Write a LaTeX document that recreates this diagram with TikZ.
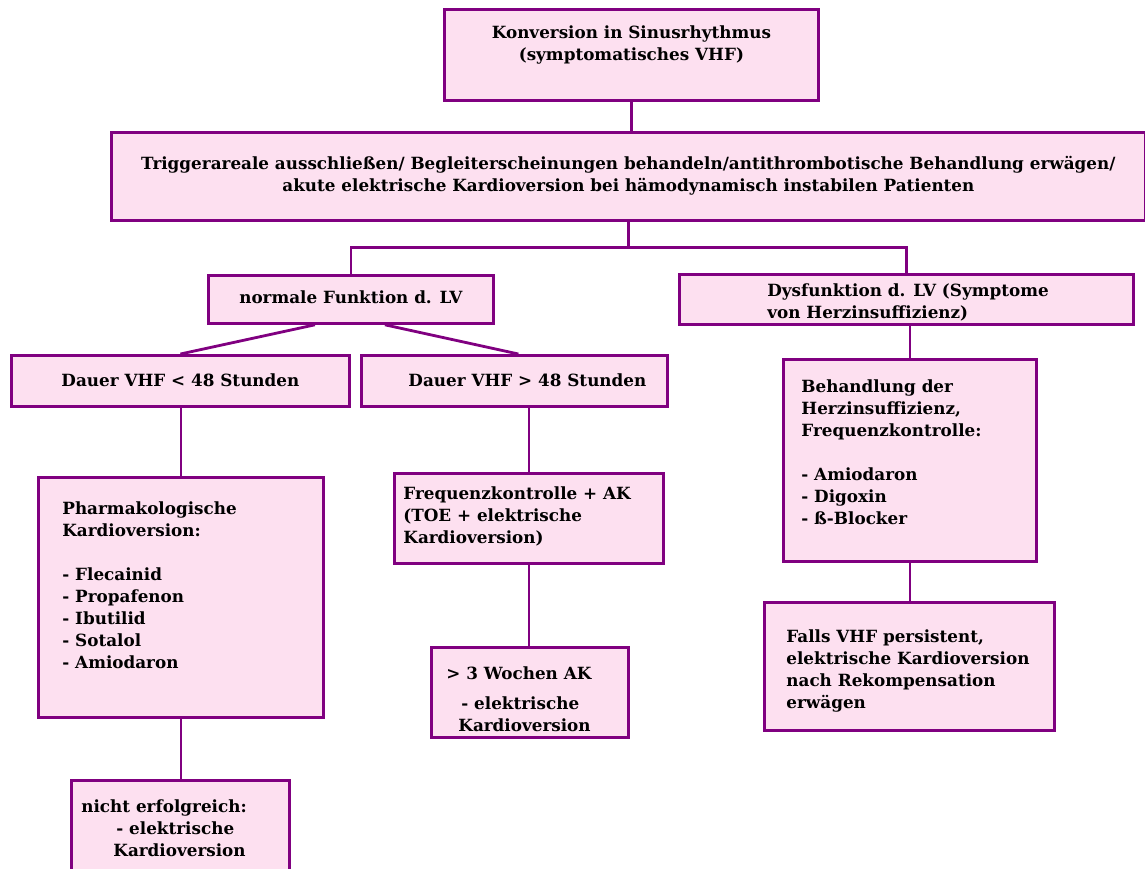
\documentclass[tikz,border=0pt]{standalone}
\usepackage{fontspec}
\setmainfont{DejaVu Serif}
\usepackage{xcolor}
\usepackage{tikz}
\usetikzlibrary{calc}
\definecolor{boxfill}{RGB}{253,224,240}
\definecolor{boxline}{RGB}{128,0,128}
% box contents: width, height, top gap, (left gap), text
\newcommand{\cbox}[4]{\parbox[c][#2][t]{#1}{\centering\vspace*{#3}\strut#4}}
\newcommand{\lbox}[5]{\parbox[c][#2][t]{#1}{\raggedright\leftskip=#4\relax\vspace*{#3}\strut#5}}

\begin{document}
\begin{tikzpicture}[x=1pt,y=-1pt,
  flow/.style={draw=boxline,fill=boxfill,line width=2.8pt,inner sep=0pt,
    anchor=north west,font=\fontsize{16.8}{22}\selectfont\bfseries},
  link/.style={draw=boxline,line width=2.8pt}]
  \useasboundingbox (0,0) rectangle (1145,868);
  \clip (0,0) rectangle (1145,868);
  % top level
  \node[flow] (top) at (443,8) {\cbox{374pt}{91pt}{13.6pt}{Konversion in Sinusrhythmus\\(symptomatisches VHF)}};
  \node[flow] (trig) at (110,131) {\cbox{1034pt}{88pt}{21.6pt}{Triggerareale ausschließen/ Begleiterscheinungen behandeln/antithrombotische Behandlung erwägen/\\akute elektrische Kardioversion bei hämodynamisch instabilen Patienten}};
  % LV function
  \node[flow] (normal) at (207,274) {\cbox{285pt}{48pt}{12.6pt}{normale Funktion d. LV}};
  \node[flow] (dysf) at (678,273) {\lbox{454pt}{50pt}{6.6pt}{88pt}{Dysfunktion d. LV (Symptome\\von Herzinsuffizienz)}};
  % normal function branch
  \node[flow] (short) at (10,354) {\cbox{338pt}{51pt}{15.6pt}{Dauer VHF < 48 Stunden}};
  \node[flow] (long) at (360,354) {\cbox{306pt}{51pt}{15.6pt}{\hspace*{26pt}Dauer VHF > 48 Stunden}};
  \node[flow] (pharma) at (37,476) {\lbox{285pt}{240pt}{21.6pt}{24pt}{Pharmakologische\\Kardioversion:\\[22pt]- Flecainid\\- Propafenon\\- Ibutilid\\- Sotalol\\- Amiodaron}};
  \node[flow] (freq) at (393,472) {\lbox{269pt}{90pt}{10.6pt}{9pt}{Frequenzkontrolle + AK\\(TOE + elektrische\\Kardioversion)}};
  \node[flow] (weeks) at (430,646) {\lbox{197pt}{90pt}{16.6pt}{15pt}{> 3 Wochen AK\\[8pt]\hspace*{15pt}- elektrische\\\hspace*{12pt}Kardioversion}};
  \node[flow] (fail) at (70,779) {\lbox{218pt}{110pt}{16.6pt}{10pt}{nicht erfolgreich:\\\hspace*{35pt}- elektrische\\\hspace*{32pt}Kardioversion}};
  % dysfunction branch
  \node[flow] (heart) at (782,358) {\lbox{253pt}{202pt}{17.6pt}{18pt}{Behandlung der\\Herzinsuffizienz,\\Frequenzkontrolle:\\[22pt]- Amiodaron\\- Digoxin\\- ß-Blocker}};
  \node[flow] (persist) at (763,601) {\lbox{290pt}{128pt}{24.6pt}{22pt}{Falls VHF persistent,\\elektrische Kardioversion\\nach Rekompensation\\erwägen}};
  % connectors
  \draw[link] (top.south) -- (top.south |- trig.north);
  \draw[link] (trig.south) -- ++(0,26) coordinate (split);
  \draw[link] (normal.north) |- (split) -| (dysf.north);
  \draw[link] ($(normal.south)+(-36,0)$) -- (short.north);
  \draw[link] ($(normal.south)+(34,0)$) -- ($(long.north)+(4,0)$);
  \draw[link] (pharma.north) -- (pharma.north |- short.south);
  \draw[link] (freq.north) -- (freq.north |- long.south);
  \draw[link] (freq.south) -- (freq.south |- weeks.north);
  \draw[link] (pharma.south) -- (pharma.south |- fail.north);
  \draw[link] (heart.north) -- (heart.north |- dysf.south);
  \draw[link] (heart.south) -- (heart.south |- persist.north);
\end{tikzpicture}
\end{document}
